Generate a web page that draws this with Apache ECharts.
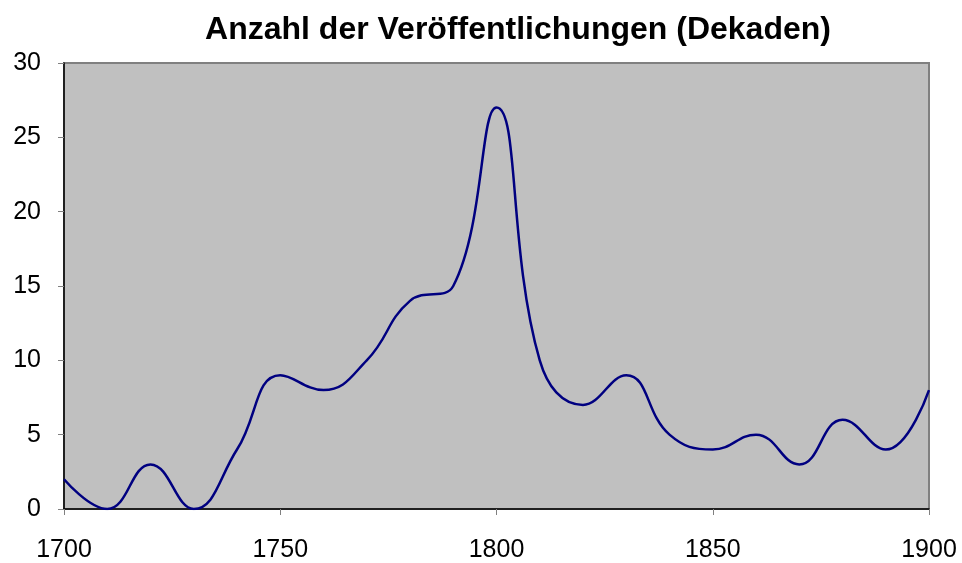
<!DOCTYPE html>
<html>
<head>
    <meta charset="utf-8">
    <title>Anzahl der Veröffentlichungen</title>
    <script src="https://cdn.jsdelivr.net/npm/echarts@6/dist/echarts.min.js"></script>
    <style>
        html, body { margin: 0; padding: 0; background: #fff; }
        #chart1 { width: 962px; height: 563px; }
    </style>
</head>
<body>
<div id="chart1"></div>
<script type="text/javascript">
    // Dekaden und Anzahl der Veröffentlichungen
    var decades = [1700, 1710, 1720, 1730, 1740, 1750, 1760, 1770, 1780, 1790, 1800,
                   1810, 1820, 1830, 1840, 1850, 1860, 1870, 1880, 1890, 1900];
    var counts = [2, 0, 3, 0, 4, 9, 8, 10, 14, 15, 27,
                  10, 7, 9, 5, 4, 5, 3, 6, 4, 8];
    var yTicks = [0, 5, 10, 15, 20, 25, 30];
    var xTicks = [1700, 1750, 1800, 1850, 1900];

    var points = decades.map(function (d, i) { return [d, counts[i]]; });

    var myChart1 = echarts.init(document.getElementById('chart1'));
    myChart1.setOption({
        animation: false,
        title: {
            text: 'Anzahl der Veröffentlichungen (Dekaden)',
            left: 513,
            textAlign: 'center',
            top: 9,
            textStyle: { fontFamily: 'Liberation Sans', fontWeight: 'bold', fontSize: 32, color: '#000' }
        },
        grid: {
            left: 64, right: 33, top: 63, bottom: 52,
            show: true,
            backgroundColor: '#c0c0c0',
            borderColor: '#808080',
            borderWidth: 2
        },
        xAxis: {
            type: 'value',
            min: xTicks[0],
            max: xTicks[xTicks.length - 1],
            interval: 50,
            axisLine: { lineStyle: { color: '#000', width: 1.5 } },
            axisTick: { show: true, length: 6, lineStyle: { color: '#808080' } },
            splitLine: { show: false },
            axisLabel: {
                margin: 29, fontFamily: 'Liberation Sans', fontSize: 25, color: '#000',
                formatter: function (v) { return String(v); }
            }
        },
        yAxis: {
            type: 'value',
            min: yTicks[0],
            max: yTicks[yTicks.length - 1],
            interval: 5,
            axisLine: { show: true, lineStyle: { color: '#000', width: 1.5 } },
            axisTick: { show: true, length: 6, lineStyle: { color: '#808080' } },
            splitLine: { show: false },
            axisLabel: { margin: 23, fontFamily: 'Liberation Sans', fontSize: 25, color: '#000' }
        },
        series: [{
            type: 'line',
            data: points,
            smooth: 0.45,
            symbol: 'none',
            lineStyle: { color: '#000080', width: 2.5 }
        }]
    });
</script>
</body>
</html>
